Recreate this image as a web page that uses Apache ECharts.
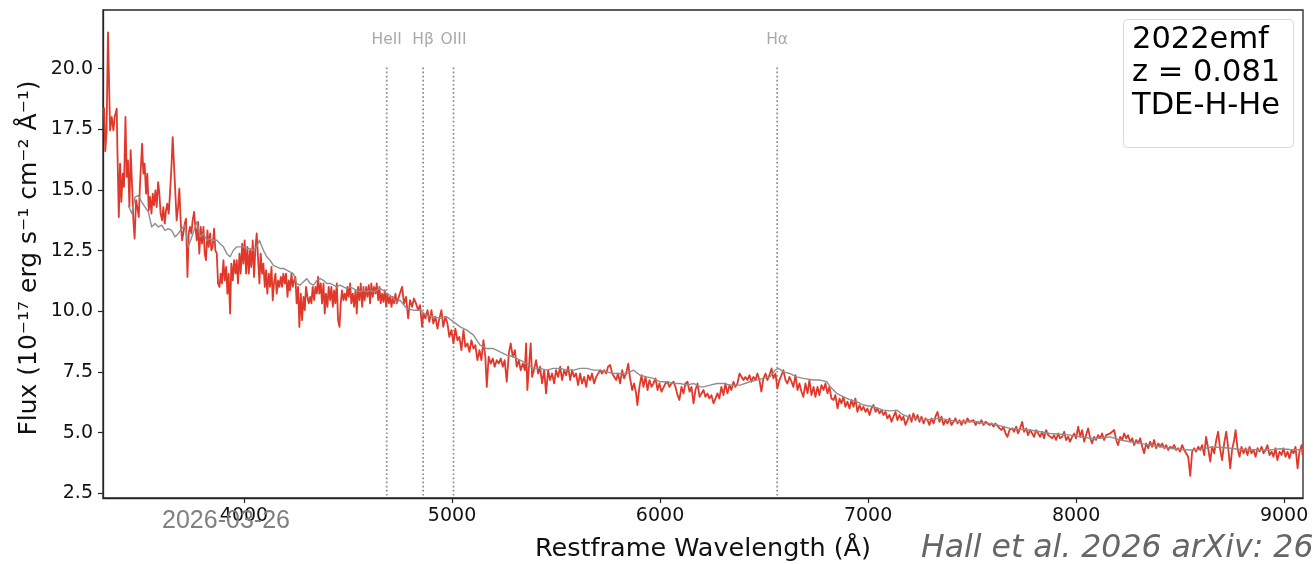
<!DOCTYPE html>
<html>
<head>
<meta charset="utf-8">
<title>2022emf spectrum</title>
<script src="https://cdn.jsdelivr.net/npm/echarts@6/dist/echarts.min.js"></script>
<style>
  html, body { margin: 0; padding: 0; background: #ffffff; }
  #chart { width: 1314px; height: 564px; }
</style>
</head>
<body>
<div id="chart"></div>
<script>
// Observed spectrum of 2022emf: [restframe wavelength (Å), flux (1e-17 erg/s/cm2/Å)]
const observedSpectrum = [
  [3327,18.4],[3333,16.6],[3339,17.4],[3346,21.5],[3356,17.46],[3364,18.01],[3372,17.46],[3378,18.01],[3388,18.35],[3391,16.77],
  [3398,13.89],[3404,16.09],[3410,14.51],[3417,15.68],[3423,15.13],[3430,18.01],[3436,15.54],[3442,16.22],[3449,14.30],[3455,16.64],
  [3462,15.13],[3468,13.75],[3474,13.00],[3481,14.58],[3487,14.30],[3494,13.89],[3500,15.26],[3510,16.91],[3516,15.68],[3522,16.09],
  [3529,14.85],[3535,15.68],[3542,14.17],[3548,14.72],[3555,14.03],[3561,14.85],[3567,14.37],[3574,14.99],[3580,14.30],[3587,15.33],
  [3593,14.85],[3599,14.03],[3606,13.75],[3612,14.30],[3619,13.62],[3625,14.17],[3631,14.44],[3638,14.03],[3644,14.85],[3651,15.95],
  [3657,17.18],[3664,17.25],[3670,14.85],[3676,13.75],[3683,14.30],[3689,15.06],[3696,13.62],[3702,12.93],[3708,13.21],[3715,13.62],
  [3721,13.82],[3728,11.42],[3734,13.21],[3740,13.48],[3747,13.21],[3753,13.75],[3760,14.10],[3766,13.48],[3773,12.93],[3779,13.69],
  [3785,12.38],[3792,13.48],[3798,12.79],[3805,13.48],[3811,12.38],[3817,12.11],[3824,13.34],[3830,12.66],[3837,13.21],[3843,12.52],
  [3849,12.66],[3856,13.41],[3862,12.52],[3869,12.38],[3875,11.15],[3882,11.01],[3888,11.56],[3894,11.15],[3901,12.11],[3907,11.28],
  [3914,11.83],[3920,10.73],[3926,11.56],[3933,9.91],[3939,11.97],[3946,11.28],[3952,12.11],[3959,11.56],[3965,12.11],[3971,11.15],
  [3978,12.38],[3984,11.56],[3991,12.79],[3997,11.97],[4003,12.93],[4010,11.56],[4016,12.66],[4023,11.56],[4029,12.52],[4035,11.83],
  [4042,12.93],[4048,11.42],[4055,12.66],[4061,13.21],[4068,12.11],[4074,11.15],[4080,12.38],[4087,11.56],[4093,11.97],[4100,11.01],
  [4106,11.70],[4112,10.73],[4119,11.56],[4125,11.01],[4132,11.83],[4138,10.46],[4144,11.15],[4151,11.56],[4157,10.73],[4164,11.28],
  [4170,11.01],[4177,11.42],[4183,11.01],[4189,11.56],[4196,11.15],[4202,11.56],[4209,10.60],[4215,11.28],[4221,10.87],[4228,11.56],
  [4234,11.01],[4241,11.28],[4247,11.42],[4253,10.33],[4260,11.01],[4266,9.36],[4273,10.73],[4279,9.64],[4286,10.60],[4292,10.05],
  [4298,11.01],[4305,10.60],[4311,10.33],[4318,10.60],[4324,10.33],[4330,11.01],[4337,10.46],[4343,11.01],[4350,10.73],[4356,11.42],
  [4362,10.73],[4369,11.15],[4375,10.33],[4382,11.15],[4388,9.91],[4394,10.73],[4401,10.19],[4407,11.01],[4414,10.46],[4420,11.01],
  [4427,10.19],[4433,10.87],[4439,10.33],[4446,11.15],[4452,9.64],[4459,9.36],[4465,10.33],[4471,10.87],[4478,10.46],[4484,10.73],
  [4491,10.46],[4497,11.01],[4503,10.60],[4510,11.15],[4516,10.33],[4523,10.73],[4529,10.19],[4536,10.87],[4542,9.91],[4548,11.01],
  [4555,10.46],[4561,11.15],[4568,10.19],[4574,11.01],[4580,10.46],[4587,11.01],[4593,10.60],[4600,11.08],[4606,10.33],[4612,11.15],
  [4619,10.60],[4625,11.01],[4632,10.73],[4638,11.15],[4645,10.46],[4651,11.01],[4657,10.33],[4664,10.73],[4670,10.39],[4677,10.87],
  [4683,10.19],[4689,10.73],[4696,10.33],[4702,10.60],[4709,10.19],[4715,10.60],[4721,10.33],[4728,10.73],[4734,10.33],[4744,10.60],
  [4750,10.67],[4760,11.01],[4769,10.32],[4779,10.60],[4789,9.71],[4798,10.46],[4808,10.19],[4817,10.53],[4827,10.32],[4837,10.05],
  [4846,10.26],[4856,9.36],[4862,9.91],[4872,9.71],[4882,10.05],[4891,9.57],[4901,10.05],[4910,9.50],[4920,9.78],[4930,9.29],
  [4939,9.71],[4949,10.05],[4958,9.36],[4968,9.78],[4978,9.50],[4987,8.95],[4997,9.23],[5007,8.68],[5016,9.29],[5026,8.81],
  [5035,8.95],[5045,8.40],[5055,9.23],[5064,8.54],[5074,8.68],[5084,8.33],[5093,8.81],[5103,8.47],[5112,8.61],[5122,7.99],
  [5132,8.40],[5141,7.99],[5151,8.81],[5160,8.13],[5167,6.89],[5176,8.13],[5186,7.85],[5196,8.06],[5205,7.72],[5215,7.99],
  [5225,7.85],[5234,8.06],[5244,7.72],[5253,7.99],[5263,7.10],[5273,8.27],[5282,8.68],[5292,8.13],[5302,8.40],[5311,7.72],
  [5321,7.99],[5330,7.58],[5340,7.85],[5350,7.58],[5356,8.68],[5362,6.76],[5372,7.99],[5378,8.68],[5385,7.30],[5394,7.58],
  [5404,7.99],[5414,7.44],[5423,7.72],[5433,7.03],[5443,7.58],[5452,6.62],[5462,7.58],[5471,7.17],[5481,7.44],[5491,7.03],
  [5500,7.58],[5510,7.30],[5520,7.72],[5529,7.17],[5539,7.58],[5548,7.37],[5558,7.72],[5568,7.17],[5577,7.58],[5587,7.30],
  [5596,7.44],[5606,6.96],[5616,7.44],[5625,7.03],[5635,7.30],[5645,6.89],[5654,7.37],[5664,7.17],[5673,7.44],[5683,7.03],
  [5693,7.30],[5702,7.37],[5712,7.58],[5721,7.44],[5731,7.58],[5741,7.44],[5750,7.72],[5760,7.79],[5770,7.44],[5779,7.37],
  [5789,7.17],[5798,7.44],[5808,7.03],[5818,7.58],[5827,7.24],[5837,7.44],[5847,7.85],[5856,7.24],[5866,6.76],[5875,7.03],
  [5885,6.62],[5891,6.14],[5901,6.89],[5911,7.37],[5920,6.89],[5930,7.30],[5940,6.76],[5949,7.17],[5959,6.89],[5968,7.03],
  [5978,7.24],[5988,6.76],[5997,7.03],[6007,6.69],[6016,6.76],[6026,7.03],[6036,7.10],[6045,6.89],[6055,7.03],[6065,7.10],
  [6074,6.89],[6084,6.55],[6093,6.35],[6103,6.89],[6113,6.62],[6122,7.03],[6132,7.10],[6142,6.69],[6151,6.89],[6161,6.21],
  [6170,6.76],[6180,7.03],[6190,6.48],
  [6199,6.55],[6209,6.76],[6218,6.48],[6228,6.62],[6237,6.41],[6247,6.55],[6257,6.21],[6266,6.14],[6276,6.62],[6285,6.41],
  [6295,6.89],[6305,6.55],[6314,7.03],[6324,6.62],[6334,6.96],[6343,6.76],[6353,7.10],[6362,6.89],[6372,7.03],[6382,7.44],
  [6391,7.37],[6401,7.17],[6410,7.30],[6420,7.17],[6430,7.37],[6439,7.10],[6449,7.30],[6459,7.17],[6468,7.44],[6478,7.17],
  [6487,6.69],[6497,7.24],[6507,7.44],[6516,7.17],[6526,7.37],[6536,7.65],[6545,7.24],[6555,7.44],[6564,6.82],[6574,7.17],
  [6584,7.37],[6593,7.58],[6603,7.17],[6612,7.03],[6622,7.30],[6632,7.10],[6641,6.89],[6651,7.37],[6661,6.76],[6670,7.03],
  [6680,6.69],[6689,6.48],[6699,7.03],[6709,6.62],[6718,7.17],[6728,6.55],[6738,6.89],[6747,6.48],[6757,6.89],[6766,6.55],
  [6776,6.96],[6786,6.76],[6795,7.03],[6805,6.62],[6814,6.89],[6824,6.41],[6834,6.35],[6843,6.55],[6853,6.00],[6863,6.41],
  [6872,6.21],[6882,6.48],[6891,6.07],[6901,6.28],[6911,6.00],[6920,6.35],[6930,6.07],[6939,6.41],[6949,5.86],[6959,6.14],
  [6968,5.93],[6978,6.07],[6988,5.86],[6997,6.00],[7007,5.73],[7016,6.00],[7026,6.14],[7036,5.86],[7045,6.00],[7055,5.80],
  [7065,5.93],[7074,5.73],[7084,5.86],[7093,5.59],[7103,5.73],[7113,5.45],[7122,5.66],[7132,5.86],[7141,5.52],[7151,5.73],
  [7161,5.52],[7170,5.66],[7180,5.32],[7190,5.52],[7199,5.73],[7209,5.45],[7218,5.80],[7228,5.52],[7238,5.73],[7247,5.45],
  [7257,5.66],[7267,5.38],[7276,5.59],[7286,5.52],[7295,5.32],[7305,5.59],[7315,5.38],[7324,5.66],[7334,5.86],[7343,5.45],
  [7353,5.66],[7363,5.32],[7372,5.52],[7382,5.38],[7392,5.59],[7401,5.32],[7411,5.45],[7420,5.59],[7430,5.38],[7440,5.52],
  [7449,5.32],[7459,5.52],[7468,5.38],[7478,5.59],[7488,5.45],[7497,5.38],[7507,5.52],[7517,5.32],[7526,5.45],[7536,5.38],
  [7545,5.52],[7555,5.32],[7565,5.45],[7574,5.38],[7584,5.32],[7594,5.38],[7603,5.25],[7613,5.38],[7622,5.45],[7632,5.18],
  [7642,5.11],[7651,5.25],[7661,4.97],[7670,4.83],[7680,5.11],
  [7693,5.18],[7702,5.04],[7712,5.25],[7721,4.97],[7731,5.18],[7741,5.45],[7750,5.04],[7760,5.18],[7769,4.90],[7779,5.11],
  [7789,4.97],[7798,4.83],[7808,5.11],[7818,4.97],[7827,4.83],[7837,5.04],[7846,4.77],[7856,5.11],[7866,4.90],[7875,4.97],
  [7885,4.77],[7894,4.90],[7904,4.70],[7914,4.97],[7923,4.77],[7933,4.83],[7943,5.04],[7952,4.70],[7962,4.83],[7971,4.63],
  [7981,4.83],[7991,4.97],[8000,4.77],[8010,5.25],[8020,4.83],[8029,5.11],[8039,4.63],[8048,4.90],[8058,5.18],[8068,4.77],
  [8077,4.56],[8087,4.83],[8096,4.70],[8106,4.90],[8116,4.77],[8125,4.97],[8135,4.70],[8145,4.90],[8154,4.83],[8164,4.97],
  [8173,5.04],[8183,5.11],[8193,4.70],[8202,4.49],[8212,4.83],[8222,4.70],[8231,4.97],[8241,4.77],[8250,4.90],[8260,4.63],
  [8270,4.77],[8279,4.49],[8289,4.70],[8298,4.56],[8308,4.77],[8318,4.42],[8327,4.15],[8337,4.56],[8347,4.36],[8356,4.63],
  [8366,4.42],[8375,4.70],[8385,4.36],[8395,4.56],[8404,4.42],[8414,4.56],[8424,4.36],[8433,4.49],[8443,4.29],[8452,4.42],
  [8462,4.36],[8472,4.49],[8481,4.29],[8491,4.36],[8500,4.22],[8510,4.49],[8520,4.29],[8529,4.36],[8539,4.01],[8549,3.22],
  [8558,4.22],[8568,4.36],[8577,4.22],[8587,4.42],[8597,4.29],[8606,4.49],[8616,4.08],[8625,4.83],[8635,4.36],[8645,3.81],
  [8654,4.42],[8664,4.15],[8674,4.70],[8683,5.04],[8693,4.29],[8702,3.87],[8712,4.56],[8722,5.04],[8731,4.42],[8741,3.53],
  [8750,4.29],[8760,4.70],[8767,5.11],[8776,4.36],[8786,4.01],[8795,4.42],[8805,4.15],[8815,4.36],[8824,4.08],[8834,4.42],
  [8843,4.15],[8853,4.29],[8863,4.01],[8872,4.36],[8882,4.22],[8892,4.42],[8901,4.15],[8911,4.29],[8920,4.49],[8930,4.08],
  [8940,4.22],[8949,4.01],[8959,4.36],[8968,3.87],[8978,4.22],[8988,4.08],[8997,4.36],[9007,4.01],[9017,4.22],[9026,3.94],
  [9036,4.29],[9046,4.15],[9055,4.42],[9065,3.53],[9074,4.22],[9084,4.49],[9089,4.08]
];

// Template spectrum (grey comparison curve)
const templateSpectrum = [
  [3444,14.37],[3460,14.03],[3476,14.71],[3492,14.78],[3508,14.51],[3524,14.30],[3540,14.10],[3556,13.48],[3572,13.62],[3588,13.48],
  [3604,13.55],[3620,13.34],[3636,13.41],[3652,13.34],[3668,13.07],[3684,13.21],[3700,13.41],[3716,13.55],[3732,12.66],[3749,13.07],
  [3765,13.48],[3773,13.69],[3789,13.07],[3805,13.21],[3821,12.93],[3837,13.00],[3853,12.93],[3869,12.93],[3885,12.79],[3901,12.66],
  [3917,12.38],[3933,12.25],[3949,12.52],[3965,12.66],[3981,12.66],[3997,12.66],[4013,12.59],[4029,12.59],[4045,12.52],[4061,12.66],
  [4074,12.93],[4093,12.52],[4109,12.25],[4125,12.11],[4141,11.90],[4157,11.83],[4173,11.77],[4189,11.77],[4205,11.70],[4221,11.63],
  [4237,11.56],[4253,11.15],[4269,11.08],[4286,11.22],[4302,11.35],[4318,11.15],[4334,11.08],[4350,11.28],[4366,11.35],[4382,11.28],
  [4398,11.15],[4414,11.15],[4430,11.08],[4446,11.01],[4462,11.08],[4478,11.01],[4494,10.94],[4510,11.01],[4526,10.94],[4542,10.87],
  [4558,10.80],[4574,10.87],[4590,10.80],[4606,10.87],[4622,10.80],[4638,10.87],[4654,10.94],[4670,10.87],[4686,10.73],[4702,10.67],
  [4718,10.53],[4734,10.39],[4750,10.46],
  [4782,10.12],[4814,10.05],[4846,10.05],[4878,9.84],[4910,9.78],[4942,9.71],[4975,9.78],[5007,9.57],[5039,9.36],[5071,9.23],
  [5103,9.02],[5135,8.61],[5167,8.47],[5199,8.47],[5231,8.33],[5263,8.20],[5295,8.13],[5327,7.99],[5359,7.85],[5391,7.65],
  [5423,7.65],[5455,7.58],[5487,7.65],[5520,7.65],[5552,7.58],[5584,7.58],[5616,7.65],[5648,7.65],[5680,7.58],[5712,7.58],
  [5744,7.51],[5776,7.44],[5808,7.44],[5840,7.44],[5872,7.58],[5904,7.37],[5936,7.30],[5968,7.24],[6000,7.10],[6033,7.10],
  [6065,7.03],[6097,7.03],[6129,6.96],[6161,7.03],[6193,6.89],
  [6209,6.89],[6241,6.96],[6273,7.03],[6305,7.03],[6337,6.96],[6385,6.96],[6433,7.10],[6465,7.17],[6497,7.24],[6529,7.30],
  [6553,7.58],[6569,7.65],[6593,7.51],[6625,7.44],[6657,7.30],[6689,7.24],[6738,7.17],[6770,7.17],[6802,7.10],[6818,6.89],
  [6850,6.62],[6882,6.48],[6914,6.35],[6946,6.28],[6978,6.14],[7026,6.07],[7074,5.93],[7106,5.90],[7138,5.93],[7170,5.73],
  [7202,5.63],[7234,5.59],[7266,5.52],[7299,5.55],[7347,5.59],[7395,5.52],[7427,5.45],[7475,5.45],[7523,5.45],[7555,5.38],
  [7587,5.38],[7619,5.32],[7651,5.25],
  [7683,5.18],[7731,5.14],[7779,5.11],[7827,5.04],[7875,4.97],[7923,4.94],[7971,4.90],[8020,4.83],[8068,4.77],[8116,4.77],
  [8164,4.83],[8212,4.70],[8260,4.63],[8308,4.56],[8356,4.49],[8404,4.42],[8452,4.36],[8500,4.31],[8549,4.29],[8597,4.31],
  [8645,4.40],[8693,4.40],[8741,4.36],[8789,4.31],[8837,4.31],[8885,4.29],[8933,4.29],[8981,4.34],[9029,4.31],[9089,4.29]
];

// Emission-line markers
const lineNames = ['HeII', 'Hβ', 'OIII', 'Hα'];
const lineWaves = [4686, 4861, 5007, 6563];

// Axis ticks
const xTicks = [4000, 5000, 6000, 7000, 8000, 9000];
const yTicks = [2.5, 5.0, 7.5, 10.0, 12.5, 15.0, 17.5, 20.0];

// Object annotation
const infoLines = ['2022emf', 'z = 0.081', 'TDE-H-He'];

const X_MIN = 3322, X_MAX = 9091;
const Y_MIN = 2.31, Y_MAX = 22.42;
const LINE_TOP = 20.05;     // top of the dotted marker lines
const LABEL_LEVEL = 21.17;  // flux level where marker names sit

const FONT = '"DejaVu Sans", sans-serif';

const chart = echarts.init(document.getElementById('chart'), null, { renderer: 'canvas' });

const markerSeries = lineWaves.map((w, i) => ({
  type: 'line',
  name: lineNames[i],
  data: [[w, LINE_TOP], [w, Y_MIN]],
  showSymbol: false,
  silent: true,
  z: 1,
  lineStyle: { color: '#8c8c8c', width: 1.7, type: [1.7, 2.4], cap: 'butt' }
}));

const option = {
  animation: false,
  backgroundColor: '#ffffff',
  grid: {
    left: 103, top: 10, width: 1200, height: 488,
    show: true, borderColor: '#262626', borderWidth: 1.3,
    containLabel: false, outerBoundsMode: 'none'
  },
  xAxis: {
    type: 'value', min: X_MIN, max: X_MAX,
    axisLine: { show: true, onZero: false, lineStyle: { color: '#262626', width: 1.3 } },
    axisTick: { show: true, customValues: xTicks, length: 5, lineStyle: { color: '#262626', width: 1.2 } },
    axisLabel: {
      customValues: xTicks, margin: 9, color: '#111', fontSize: 19, fontFamily: FONT,
      formatter: v => String(v)
    },
    splitLine: { show: false }
  },
  yAxis: {
    type: 'value', min: Y_MIN, max: Y_MAX,
    axisLine: { show: true, onZero: false, lineStyle: { color: '#262626', width: 1.3 } },
    axisTick: { show: true, customValues: yTicks, length: 5, lineStyle: { color: '#262626', width: 1.2 } },
    axisLabel: {
      customValues: yTicks, margin: 10, color: '#111', fontSize: 19, fontFamily: FONT,
      formatter: v => v.toFixed(1)
    },
    splitLine: { show: false }
  },
  series: [
    ...markerSeries,
    {
      type: 'scatter',
      name: 'line labels',
      data: lineWaves.map((w, i) => ({ value: [w, LABEL_LEVEL], name: lineNames[i] })),
      symbolSize: 0,
      silent: true,
      label: {
        show: true, position: 'inside', formatter: p => p.name,
        color: '#949494', fontSize: 15.5, fontFamily: FONT
      }
    },
    {
      type: 'line',
      name: 'observed',
      data: observedSpectrum,
      showSymbol: false,
      z: 3,
      lineStyle: { color: '#e0392b', width: 1.8, join: 'round' }
    },
    {
      type: 'line',
      name: 'template',
      data: templateSpectrum,
      showSymbol: false,
      z: 4,
      lineStyle: { color: '#8f8f8f', width: 1.4, join: 'round' }
    }
  ],
  graphic: [
    // axis titles
    {
      type: 'text', x: 703, y: 549,
      style: {
        text: 'Restframe Wavelength (Å)', fill: '#111', font: '25.5px ' + FONT,
        align: 'center', verticalAlign: 'middle'
      }
    },
    {
      type: 'text', x: 29, y: 258, rotation: Math.PI / 2,
      style: {
        text: 'Flux (10⁻¹⁷ erg s⁻¹ cm⁻² Å⁻¹)', fill: '#111', font: '25px ' + FONT,
        align: 'center', verticalAlign: 'middle'
      }
    },
    // annotation box
    {
      type: 'rect', shape: { x: 1123.5, y: 19.5, width: 170, height: 128, r: 4 },
      style: { fill: 'rgba(255,255,255,0.85)', stroke: '#d9d9d9', lineWidth: 1 }, z: 10
    },
    ...infoLines.map((t, i) => ({
      type: 'text', x: 1132, y: 40 + i * 33, z: 11,
      style: { text: t, fill: '#000', font: '30.5px ' + FONT, align: 'left', verticalAlign: 'middle' }
    })),
    // date stamp and citation
    {
      type: 'text', x: 226, y: 521, z: 12,
      style: { text: '2026-03-26', fill: '#808080', font: '25px "Liberation Sans", Arial, sans-serif',
               align: 'center', verticalAlign: 'middle' }
    },
    {
      type: 'text', x: 921, y: 549, z: 12,
      style: { text: 'Hall et al. 2026 arXiv: 26', fill: '#666666', font: 'italic 31.5px "DejaVu Sans", sans-serif',
               align: 'left', verticalAlign: 'middle' }
    }
  ]
};

chart.setOption(option);
</script>
</body>
</html>
